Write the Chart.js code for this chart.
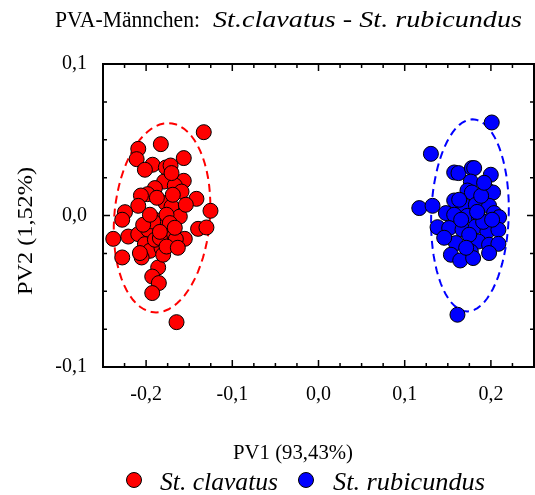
<!DOCTYPE html>
<html>
<head>
<meta charset="utf-8">
<script src="https://cdn.jsdelivr.net/npm/chart.js@4.4.1/dist/chart.umd.min.js"></script>
<style>
  html, body { margin: 0; padding: 0; background: #fff; }
</style>
</head>
<body>
<canvas id="pvaChart" width="535" height="495"></canvas>
<script>
// St. clavatus (red)
const clavatusX = [-0.1331, -0.1829, -0.2091, -0.2110, -0.1563, -0.1925, -0.2014, -0.1771, -0.1716, -0.1791,
  -0.1563, -0.1667, -0.1589, -0.1898, -0.1983, -0.2060, -0.1774, -0.1416, -0.2091, -0.2245,
  -0.1253, -0.1628, -0.1705, -0.1898, -0.1840, -0.2277, -0.2381, -0.2207, -0.2091, -0.1976,
  -0.1744, -0.1551, -0.1397, -0.1300, -0.2014, -0.1956, -0.1821, -0.2052, -0.2277, -0.1860,
  -0.1929, -0.1852, -0.1929, -0.1647, -0.1609, -0.1898, -0.1802, -0.1705, -0.1840, -0.1763,
  -0.1918, -0.2034, -0.1725, -0.1655, -0.1763, -0.2072, -0.1840, -0.1956, -0.1667, -0.1539,
  -0.1875, -0.1690, -0.1632];
const clavatusY = [0.0550, 0.0471, 0.0440, 0.0372, 0.0379, 0.0335, 0.0302, 0.0317, 0.0330, 0.0224,
  0.0229, 0.0198, 0.0158, 0.0181, 0.0141, 0.0132, 0.0082, 0.0110, 0.0064, 0.0022,
  0.0031, 0.0022, 0.0059, -0.0028, -0.0061, -0.0028, -0.0154, -0.0139, -0.0123, -0.0094,
  -0.0139, -0.0154, -0.0088, -0.0079, -0.0189, -0.0233, -0.0215, -0.0277, -0.0277, -0.0343,
  -0.0403, -0.0446, -0.0512, -0.0704, -0.0007, -0.0160, -0.0259, 0.0280, -0.0149, 0.0005,
  -0.0040, -0.0061, -0.0050, -0.0156, -0.0205, -0.0248, -0.0108, 0.0005, -0.0081, 0.0071,
  0.0117, 0.0137, -0.0213];

// St. rubicundus (blue)
const rubicundusX = [0.2010, 0.1304, 0.1574, 0.1624, 0.1779, 0.1806, 0.1999, 0.1767, 0.1728, 0.1779,
  0.1948, 0.2025, 0.1574, 0.1169, 0.1323, 0.1478, 0.1690, 0.1825, 0.1979, 0.2037,
  0.2095, 0.1574, 0.1728, 0.1863, 0.1381, 0.1516, 0.1670, 0.1825, 0.1959, 0.2087,
  0.1594, 0.1855, 0.1979, 0.2087, 0.1767, 0.1536, 0.1644, 0.1794, 0.1979, 0.1612,
  0.1655, 0.1748, 0.1910, 0.1632, 0.1887, 0.1713, 0.1458, 0.2014, 0.1840, 0.1921];
const rubicundusY = [0.0614, 0.0407, 0.0284, 0.0280, 0.0313, 0.0313, 0.0269, 0.0224, 0.0165, 0.0152,
  0.0174, 0.0152, 0.0099, 0.0049, 0.0064, 0.0016, 0.0064, 0.0071, 0.0064, 0.0016,
  -0.0011, 0.0005, -0.0002, -0.0017, -0.0077, -0.0083, -0.0094, -0.0073, -0.0106, -0.0094,
  -0.0182, -0.0172, -0.0193, -0.0187, -0.0238, -0.0259, -0.0297, -0.0281, -0.0248, -0.0655,
  -0.0028, -0.0127, -0.0042, 0.0104, 0.0130, -0.0213, -0.0147, -0.0028, 0.0024, 0.0216];

// confidence ellipses: centre x, centre y, half width, half height, lean of the top
const clavatusEllipse = [-0.1815, -0.0015, 0.0556, 0.0625, 0.007];
const rubicundusEllipse = [0.1757, 0.0001, 0.045, 0.0634, 0.003];

const xRange = [-0.25, 0.25];
const yRange = [-0.1, 0.1];
const tickStep = 0.025;

const SERIF = '"Liberation Serif", "Times New Roman", serif';

function toPoints(xs, ys) {
  return xs.map((x, i) => ({ x: x, y: ys[i] }));
}

function ellipseOutline(e) {
  const pts = [];
  for (let i = 0; i <= 72; i++) {
    const t = i / 72 * Math.PI * 2;
    pts.push({ x: e[0] + e[2] * Math.cos(t) + e[4] * Math.sin(t), y: e[1] + e[3] * Math.sin(t) });
  }
  return pts;
}

function tickLabel(v) {
  const n = Math.round(v / tickStep);
  if (n % 4 !== 0) return '';
  const r = n * tickStep;
  return (Math.abs(r) < 1e-9 ? 0 : r).toFixed(1).replace('.', ',');
}

// stretch a text so it fills the given width
function fitText(ctx, text, x, y, width) {
  const w = ctx.measureText(text).width;
  ctx.save();
  ctx.translate(x, y);
  ctx.scale(width / w, 1);
  ctx.fillText(text, 0, 0);
  ctx.restore();
}

const framePlugin = {
  id: 'frame',
  afterDraw(chart) {
    const ctx = chart.ctx;
    const a = chart.chartArea;
    const xs = chart.scales.x;
    const ys = chart.scales.y;

    ctx.save();
    ctx.strokeStyle = '#000';
    ctx.lineWidth = 2;
    ctx.strokeRect(a.left, a.top, a.right - a.left, a.bottom - a.top);

    ctx.lineWidth = 1.5;
    ctx.beginPath();
    xs.ticks.forEach(t => {
      const px = xs.getPixelForValue(t.value);
      const len = tickLabel(t.value) ? 7 : 4;
      ctx.moveTo(px, a.bottom); ctx.lineTo(px, a.bottom - len);
      ctx.moveTo(px, a.top); ctx.lineTo(px, a.top + len);
    });
    ys.ticks.forEach(t => {
      const py = ys.getPixelForValue(t.value);
      const len = tickLabel(t.value) ? 7 : 4;
      ctx.moveTo(a.left, py); ctx.lineTo(a.left + len, py);
      ctx.moveTo(a.right, py); ctx.lineTo(a.right - len, py);
    });
    ctx.stroke();

    ctx.fillStyle = '#000';
    ctx.textAlign = 'left';
    ctx.textBaseline = 'alphabetic';

    // title
    ctx.font = '24px ' + SERIF;
    fitText(ctx, 'PVA-Männchen:', 55, 27, 145);
    ctx.font = 'italic 24px ' + SERIF;
    fitText(ctx, 'St.clavatus - St. rubicundus', 213, 27, 309);

    // axis titles
    ctx.font = '21px ' + SERIF;
    fitText(ctx, 'PV1 (93,43%)', 233, 459, 120);
    ctx.save();
    ctx.translate(31.5, 295);
    ctx.rotate(-Math.PI / 2);
    ctx.font = '22px ' + SERIF;
    fitText(ctx, 'PV2 (1,52%)', 0, 0, 128);
    ctx.restore();

    // legend
    const items = [
      { label: 'St. clavatus', color: '#ff0000', dot: 134, x: 160, w: 118 },
      { label: 'St. rubicundus', color: '#0000ff', dot: 306, x: 333, w: 152 }
    ];
    items.forEach(it => {
      ctx.beginPath();
      ctx.arc(it.dot, 480, 7.5, 0, Math.PI * 2);
      ctx.fillStyle = it.color;
      ctx.fill();
      ctx.lineWidth = 1;
      ctx.strokeStyle = '#000';
      ctx.stroke();
      ctx.fillStyle = '#000';
      ctx.font = 'italic 26px ' + SERIF;
      fitText(ctx, it.label, it.x, 490, it.w);
    });
    ctx.restore();
  }
};

const tickFont = { family: SERIF, size: 20 };

new Chart(document.getElementById('pvaChart').getContext('2d'), {
  type: 'scatter',
  data: {
    datasets: [
      {
        label: 'St. clavatus',
        data: toPoints(clavatusX, clavatusY),
        backgroundColor: '#ff0000',
        borderColor: '#000',
        borderWidth: 1,
        pointRadius: 7.5,
        order: 1
      },
      {
        label: 'St. rubicundus',
        data: toPoints(rubicundusX, rubicundusY),
        backgroundColor: '#0000ff',
        borderColor: '#000',
        borderWidth: 1,
        pointRadius: 7.5,
        order: 1
      },
      {
        label: 'ellipse clavatus',
        data: ellipseOutline(clavatusEllipse),
        showLine: true,
        borderColor: '#ff0000',
        borderWidth: 2,
        borderDash: [8, 5],
        pointRadius: 0,
        fill: false,
        order: 2
      },
      {
        label: 'ellipse rubicundus',
        data: ellipseOutline(rubicundusEllipse),
        showLine: true,
        borderColor: '#0000ff',
        borderWidth: 2,
        borderDash: [8, 5],
        pointRadius: 0,
        fill: false,
        order: 2
      }
    ]
  },
  options: {
    responsive: false,
    animation: false,
    layout: { autoPadding: false, padding: { top: 64, right: 1, left: 0, bottom: 0 } },
    plugins: {
      legend: { display: false },
      tooltip: { enabled: false }
    },
    scales: {
      x: {
        type: 'linear',
        min: xRange[0],
        max: xRange[1],
        grid: { display: false, drawTicks: false },
        border: { display: false },
        ticks: { stepSize: tickStep, autoSkip: false, maxRotation: 0, padding: 16, color: '#000', font: tickFont, callback: tickLabel },
        afterFit: s => { s.height = 128; s.paddingLeft = 0; s.paddingRight = 0; }
      },
      y: {
        type: 'linear',
        min: yRange[0],
        max: yRange[1],
        grid: { display: false, drawTicks: false },
        border: { display: false },
        ticks: { stepSize: tickStep, autoSkip: false, padding: 16, color: '#000', font: tickFont, callback: tickLabel },
        afterFit: s => { s.width = 103; s.paddingTop = 0; s.paddingBottom = 0; }
      }
    }
  },
  plugins: [framePlugin]
});
</script>
</body>
</html>
